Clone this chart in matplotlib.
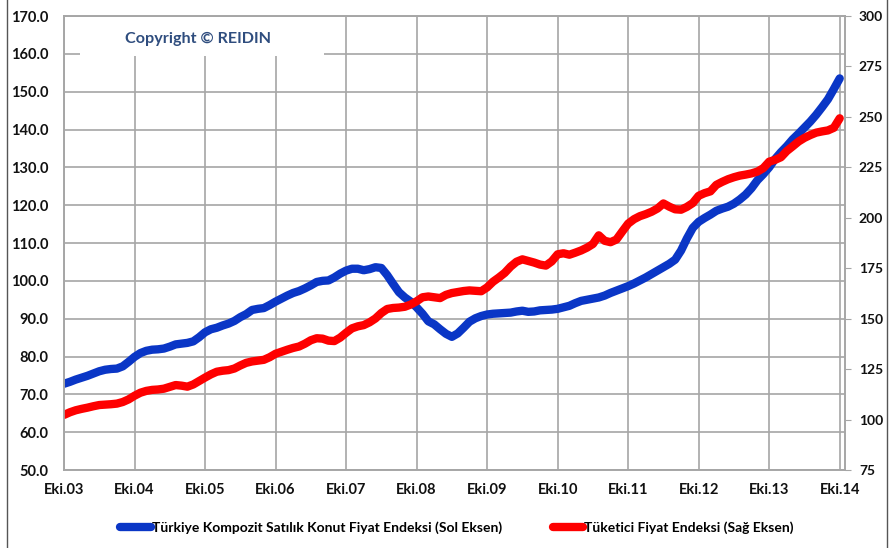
import matplotlib.pyplot as plt
from matplotlib.patches import Rectangle
from matplotlib.lines import Line2D
import numpy as np

plt.rcParams['font.family'] = ['Lato', 'DejaVu Sans']

# Monthly index values, Oct 2003 .. Oct 2014
konut = [72.8, 73.3, 73.9, 74.4, 74.9, 75.5, 76.1, 76.5, 76.7, 76.8, 77.4, 78.6,
         79.9, 80.9, 81.5, 81.8, 81.9, 82.1, 82.6, 83.2, 83.4, 83.6, 84.0, 85.1,
         86.4, 87.2, 87.6, 88.2, 88.7, 89.4, 90.4, 91.2, 92.3, 92.6, 92.8, 93.6,
         94.5, 95.3, 96.1, 96.8, 97.3, 98.0, 98.8, 99.7, 100.0, 100.1, 100.9, 101.9,
         102.7, 103.2, 103.2, 102.8, 103.1, 103.6, 103.4, 101.5, 99.2, 97.0, 95.6, 94.5,
         93.0, 91.3, 89.3, 88.5, 87.2, 86.0, 85.2, 86.1, 87.6, 89.2, 90.1, 90.7,
         91.1, 91.3, 91.4, 91.5, 91.6, 91.9, 92.1, 91.8, 91.9, 92.2, 92.3, 92.4,
         92.6, 93.0, 93.4, 94.1, 94.7, 95.0, 95.3, 95.6, 96.1, 96.8, 97.4, 98.0,
         98.6, 99.3, 100.1, 100.9, 101.8, 102.7, 103.6, 104.5, 105.6, 108.0, 111.2, 114.0,
         115.6, 116.6, 117.5, 118.5, 119.1, 119.6, 120.4, 121.5, 122.8, 124.5, 126.6, 128.2,
         130.0, 132.2, 134.0, 135.6, 137.4, 138.9, 140.5, 142.1, 143.9, 145.9, 148.0, 150.7,
         153.5]

tufe = [102.3, 103.6, 104.6, 105.3, 105.9, 106.6, 107.2, 107.4, 107.6, 107.9, 108.7, 110.0,
        111.8, 113.3, 114.2, 114.7, 114.9, 115.3, 116.2, 117.1, 116.8, 116.3, 117.4, 119.1,
        120.8, 122.4, 123.7, 124.2, 124.5, 125.3, 126.8, 128.1, 128.8, 129.2, 129.6, 130.9,
        132.6, 133.6, 134.6, 135.5, 136.2, 137.6, 139.3, 140.3, 140.1, 139.1, 138.9, 140.6,
        143.0, 145.2, 146.2, 146.8, 148.2, 150.1, 152.8, 154.8, 155.3, 155.5, 155.9, 157.0,
        158.6, 160.6, 161.0, 160.6, 160.2, 161.8, 162.7, 163.2, 163.7, 164.0, 163.8, 163.6,
        165.5, 168.3, 170.4, 172.7, 175.8, 178.2, 179.4, 178.6, 177.8, 176.8, 176.3, 178.4,
        181.9, 182.4, 181.7, 182.7, 183.8, 185.2, 187.0, 191.3, 188.6, 187.9, 189.2, 193.2,
        197.1, 199.3, 200.8, 201.8, 203.0, 204.6, 207.1, 205.5, 204.2, 204.0, 205.4, 207.3,
        210.9, 212.2, 213.1, 216.3, 217.8, 219.1, 220.1, 220.9, 221.4, 222.0, 222.9, 224.6,
        227.8, 228.7, 230.0, 233.1, 235.4, 237.8, 239.6, 241.0, 242.2, 242.8, 243.3, 244.6,
        249.3]

years = ['Eki.03', 'Eki.04', 'Eki.05', 'Eki.06', 'Eki.07', 'Eki.08',
         'Eki.09', 'Eki.10', 'Eki.11', 'Eki.12', 'Eki.13', 'Eki.14']
left_ticks = np.arange(50, 171, 10)
right_ticks = np.arange(75, 301, 25)

months = np.arange(len(konut))
grid_c = '#a6a6a6'
blue = '#0a36c6'
red = '#fe0000'

fig = plt.figure(figsize=(8.93, 5.48), dpi=100)
ax = fig.add_axes([64 / 893, 1 - 470 / 548, 781 / 893, 454 / 548])
ax2 = ax.twinx()

ax.plot(months, konut, color=blue, lw=6, solid_capstyle='round', solid_joinstyle='round')
ax2.plot(months, tufe, color=red, lw=6, solid_capstyle='round', solid_joinstyle='round')

ax.set_xlim(0, 132.9)
ax.set_ylim(50, 170)
ax2.set_ylim(75, 300)

ax.set_xticks(np.arange(0, len(years) * 12, 12))
ax.set_xticklabels(years)
ax.set_yticks(left_ticks)
ax.set_yticklabels([f'{v:.1f}' for v in left_ticks])
ax2.set_yticks(right_ticks)

ax.grid(True, color=grid_c, lw=1.2)
ax.set_axisbelow(True)

for a in (ax, ax2):
    for s in a.spines.values():
        s.set_color(grid_c)
        s.set_linewidth(1.2)

tick_font = dict(fontsize=10.5, fontweight='bold', color='#111111')
ax.tick_params(axis='y', length=0, pad=11)
ax.tick_params(axis='x', length=0, pad=9)
ax2.tick_params(axis='y', length=4, direction='out', color=grid_c, pad=6)
for lab in ax.get_xticklabels() + ax.get_yticklabels() + ax2.get_yticklabels():
    lab.set(**tick_font)
for lab in ax2.get_yticklabels():
    lab.set_fontsize(10)

# white box behind the copyright note
ax.add_patch(Rectangle((2.7, 159.3), 41.5, 10.5, facecolor='white', edgecolor='none', zorder=1.5))
ax.text(22.8, 164.0, 'Copyright \u00a9 REIDIN', color='#2f4d7e', fontsize=11.6,
        fontweight='bold', ha='center', va='center', zorder=2)

# legend below the axis labels
handles = [Line2D([], [], color=blue, lw=6, solid_capstyle='round'),
           Line2D([], [], color=red, lw=6, solid_capstyle='round')]
labels = ['Türkiye Kompozit Satılık Konut Fiyat Endeksi (Sol Eksen)',
          'Tüketici Fiyat Endeksi (Sağ Eksen)']
fig.legend(handles, labels, loc='center', bbox_to_anchor=(0.512, 1 - 528 / 548),
           ncol=2, frameon=False, handlelength=2.2, handletextpad=0.1, columnspacing=3.6,
           prop=dict(family='Lato', weight='bold', size=10))

# outer frame lines
fig.add_artist(Line2D([7 / 893, 7 / 893], [0, 1], color='#555555', lw=1, transform=fig.transFigure))
fig.add_artist(Line2D([887 / 893, 887 / 893], [0, 1], color='#555555', lw=1, transform=fig.transFigure))

fig.savefig('out.png', dpi=100)
